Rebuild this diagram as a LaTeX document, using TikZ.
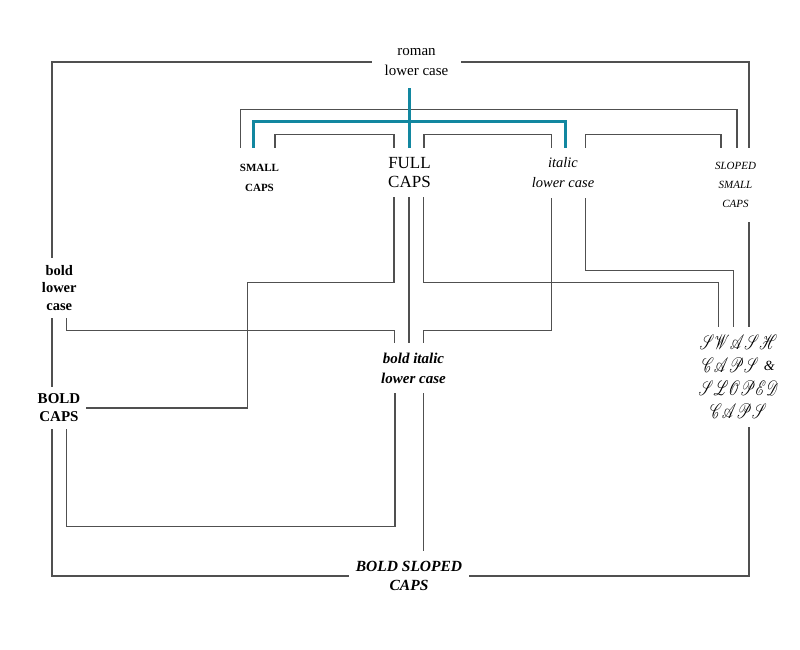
\documentclass[tikz,border=0pt]{standalone}
\usepackage{fontspec}
\setmainfont{Liberation Serif}
\usepackage{mathrsfs}
\definecolor{tealc}{RGB}{18,135,160}
\definecolor{linec}{RGB}{80,80,80}
\newcommand{\swsh}[1]{\scalebox{0.68}[1]{$\mathscr{#1}$}}
\begin{document}
\begin{tikzpicture}[x=1pt,y=-1pt,
  lbl/.style={align=center, inner sep=0pt, text=black},
  conn/.style={draw=linec, line width=1.2pt},
  tealline/.style={draw=tealc, line width=3pt}]
\useasboundingbox[fill=white] (0,0) rectangle (800,650);

% ---------- nodes ----------
\node[lbl, minimum height=52pt, minimum width=89pt, font=\fontsize{15}{20}\selectfont] (roman) at (416.5,62) {roman\\lower case};
\node[lbl, minimum height=60pt, font=\fontsize{11}{20}\selectfont\bfseries] (smallcaps) at (259.5,178) {SMALL\\CAPS};
\node[lbl, minimum height=49pt, font=\fontsize{17}{19.5}\selectfont] (fullcaps) at (409.5,172.5) {FULL\\CAPS};
\node[lbl, minimum height=50pt, font=\fontsize{14.5}{20}\selectfont\itshape] (italic) at (563,173) {italic\\lower case};
\node[lbl, minimum height=74pt, font=\fontsize{11}{19.3}\selectfont\itshape] (sloped) at (735.5,185) {SLOPED\\SMALL\\CAPS};
\node[lbl, minimum height=60pt, font=\fontsize{14.5}{17.5}\selectfont\bfseries] (boldlc) at (59.3,288) {bold\\lower\\case};
\node[lbl, minimum height=42pt, minimum width=54pt, font=\fontsize{15}{18}\selectfont\bfseries] (boldcaps) at (59,408) {BOLD\\CAPS};
\node[lbl, minimum height=50pt, font=\fontsize{15}{20}\selectfont\bfseries\itshape] (bolditalic) at (413.5,368) {bold italic\\lower case};
\node[lbl, minimum height=100pt, font=\fontsize{20}{23}\selectfont] (swash) at (738.5,377)
  {\swsh{SWASH}\\\swsh{CAPS}\hspace{5pt}\raisebox{2pt}{\fontsize{14}{20}\selectfont\textit{\&}}\\\swsh{SLOPED}\\\swsh{CAPS}};
\node[lbl, minimum height=50pt, minimum width=120pt, font=\fontsize{15.5}{19}\selectfont\bfseries\itshape] (boldsloped) at (409,576) {BOLD SLOPED\\CAPS};

% ---------- gray connectors ----------
\draw[conn] (roman.west) -| (52,0 |- boldlc.north);
\draw[conn] (roman.east) -| (749,0 |- sloped.north);
\draw[conn] (240.5,0 |- smallcaps.north) -- ++(0,-38) -| (737,0 |- sloped.north);
\draw[conn] (275,0 |- smallcaps.north) -- ++(0,-13) -| (394,0 |- fullcaps.north);
\draw[conn] (424,0 |- fullcaps.north) -- ++(0,-13) -| (551.5,0 |- italic.north);
\draw[conn] (585.5,0 |- italic.north) -- ++(0,-13) -| (721,0 |- sloped.north);

\draw[conn] (394,0 |- fullcaps.south) -- ++(0,85) -| (247.5,0 |- boldcaps.east) -- (boldcaps.east);
\draw[conn] (409,0 |- fullcaps.south) -- (409,0 |- bolditalic.north);
\draw[conn] (423.5,0 |- fullcaps.south) -- ++(0,85) -| (718.5,0 |- swash.north);
\draw[conn] (585.5,0 |- italic.south) -- ++(0,72) -| (733.5,0 |- swash.north);
\draw[conn] (749,0 |- sloped.south) -- (749,0 |- swash.north);
\draw[conn] (551.5,0 |- italic.south) -- ++(0,132) -| (423.5,0 |- bolditalic.north);
\draw[conn] (66.5,0 |- boldlc.south) -- ++(0,12) -| (394.5,0 |- bolditalic.north);
\draw[conn] (52,0 |- boldlc.south) -- (52,0 |- boldcaps.north);
\draw[conn] (52,0 |- boldcaps.south) |- (boldsloped.west);
\draw[conn] (66.5,0 |- boldcaps.south) -- ++(0,97) -| (395,0 |- bolditalic.south);
\draw[conn] (423.5,0 |- bolditalic.south) -- (423.5,0 |- boldsloped.north);
\draw[conn] (749,0 |- swash.south) |- (boldsloped.east);

% ---------- teal connectors ----------
\draw[tealline] (409,0 |- roman.south) -- (409,0 |- fullcaps.north);
\draw[tealline] (253,0 |- smallcaps.north) -- ++(0,-26) -| (565,0 |- italic.north);
\end{tikzpicture}
\end{document}
